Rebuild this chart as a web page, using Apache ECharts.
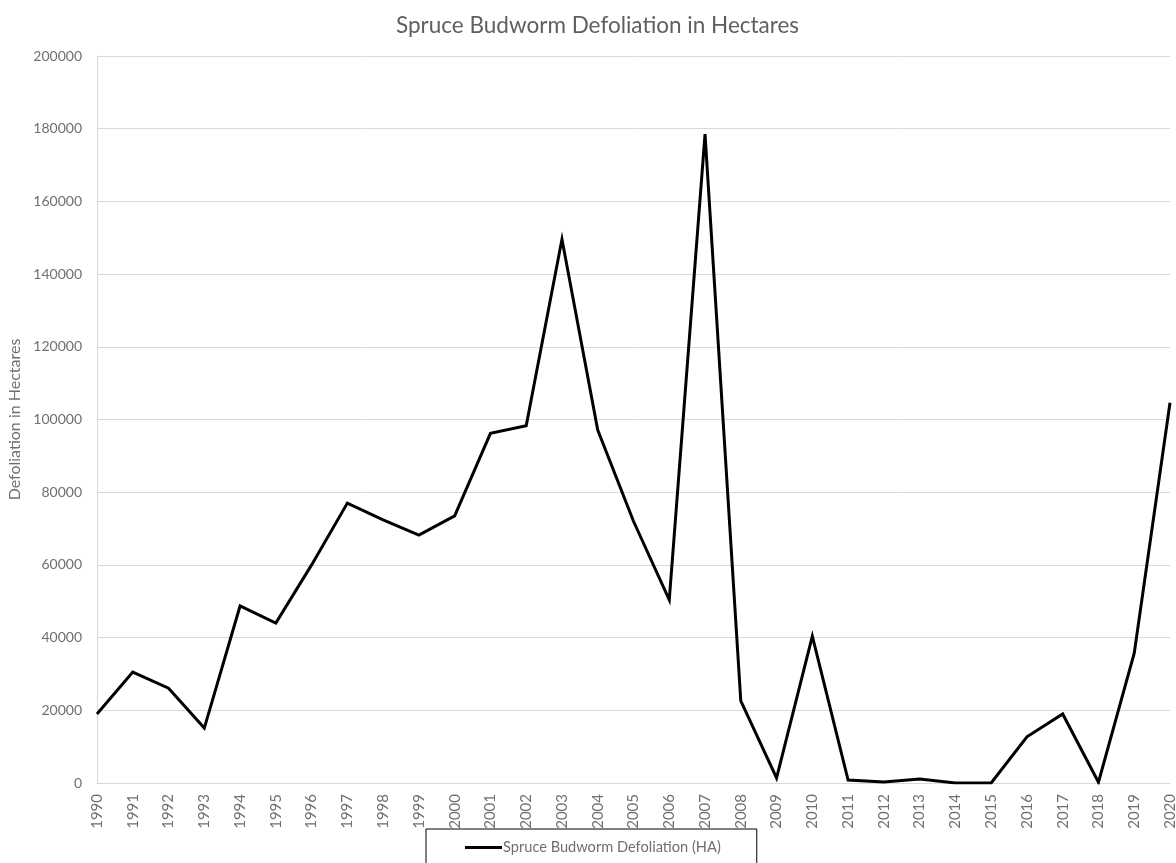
<!DOCTYPE html>
<html>
<head>
<meta charset="utf-8">
<script src="https://cdn.jsdelivr.net/npm/echarts@6/dist/echarts.min.js"></script>
<style>
  html, body { margin: 0; padding: 0; background: #ffffff; }
  #chart { width: 1176px; height: 863px; }
</style>
</head>
<body>
<div id="chart"></div>
<script>
// Annual spruce budworm defoliation, hectares
const years = ['1990','1991','1992','1993','1994','1995','1996','1997','1998','1999',
  '2000','2001','2002','2003','2004','2005','2006','2007','2008','2009',
  '2010','2011','2012','2013','2014','2015','2016','2017','2018','2019','2020'];
const defoliationHa = [19000, 30500, 26100, 15100, 48700, 44000, 60000, 77000, 72400, 68200,
  73500, 96200, 98300, 149600, 97100, 72000, 50400, 178500, 22600, 1400,
  40400, 800, 300, 1100, 0, 0, 12700, 19000, 200, 35700, 104600];

const seriesName = 'Spruce Budworm Defoliation (HA)';
const fontFamily = 'Lato, "Open Sans", sans-serif';
const titleGrey = '#5f5f5f';
const labelGrey = '#6f6f6f';
const lineGrey = '#d9d9d9';

const chart = echarts.init(document.getElementById('chart'), null, { renderer: 'canvas' });
chart.setOption({
  backgroundColor: '#ffffff',
  animation: false,
  textStyle: { fontFamily: fontFamily },
  title: {
    text: 'Spruce Budworm Defoliation in Hectares',
    left: 391,
    top: 9,
    textStyle: { fontFamily: fontFamily, fontSize: 22.5, fontWeight: 'normal', color: titleGrey }
  },
  grid: { left: 97, right: 6, top: 56, bottom: 80, containLabel: false, outerBoundsMode: 'none' },
  legend: {
    data: [seriesName],
    left: 426,
    top: 829,
    padding: [11, 36, 20, 39],
    borderColor: '#000000',
    borderWidth: 1,
    icon: 'rect',
    itemWidth: 37,
    itemHeight: 3,
    textStyle: { fontFamily: fontFamily, fontSize: 14.6, color: labelGrey, padding: [0, 0, 0, -4] }
  },
  xAxis: {
    type: 'category',
    data: years,
    boundaryGap: false,
    axisLine: { lineStyle: { color: lineGrey, width: 1 } },
    axisTick: { show: false },
    axisLabel: { rotate: 90, interval: 0, margin: 11, fontSize: 15, color: labelGrey, fontFamily: fontFamily },
    splitLine: { show: false }
  },
  yAxis: {
    type: 'value',
    min: 0,
    max: 200000,
    interval: 20000,
    name: 'Defoliation in Hectares',
    nameLocation: 'middle',
    nameGap: 72,
    nameTextStyle: { fontFamily: fontFamily, fontSize: 16, color: labelGrey },
    axisLine: { show: true, lineStyle: { color: lineGrey, width: 1 } },
    axisTick: { show: false },
    axisLabel: {
      margin: 15, fontSize: 14, color: labelGrey, fontFamily: fontFamily,
      formatter: function (v) { return String(v); }
    },
    splitLine: { lineStyle: { color: lineGrey, width: 1 } }
  },
  series: [{
    name: seriesName,
    type: 'line',
    data: defoliationHa,
    symbol: 'none',
    lineStyle: { color: '#000000', width: 3, join: 'miter' },
    itemStyle: { color: '#000000' }
  }]
});
</script>
</body>
</html>
